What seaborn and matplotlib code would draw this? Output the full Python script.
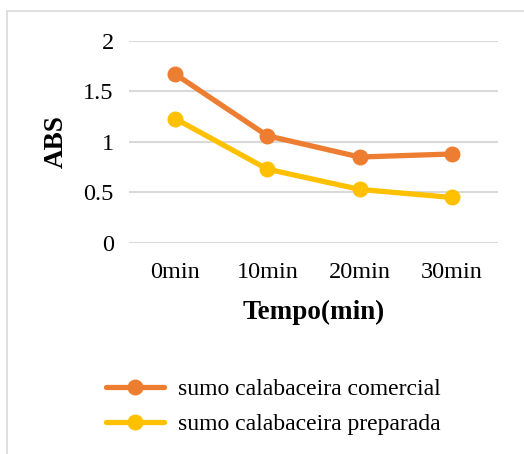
import matplotlib
matplotlib.use("Agg")
import matplotlib.pyplot as plt
import seaborn as sns
import pandas as pd
from matplotlib.patches import Rectangle

categories = ["0min", "10min", "20min", "30min"]
series_names = ["sumo calabaceira comercial", "sumo calabaceira preparada"]
comercial = [1.67, 1.06, 0.85, 0.88]
preparada = [1.23, 0.73, 0.53, 0.45]
yticks = [0, 0.5, 1, 1.5, 2]
colors = ["#ED7D31", "#FFC000"]

rows = []
for name, vals in zip(series_names, [comercial, preparada]):
    for c, v in zip(categories, vals):
        rows.append({"Tempo": c, "ABS": v, "serie": name})
df = pd.DataFrame(rows)

sns.set_theme(style="white")
plt.rcParams["font.family"] = ["Liberation Serif", "DejaVu Serif"]
plt.rcParams["text.color"] = "black"
plt.rcParams["axes.labelcolor"] = "black"

fig = plt.figure(figsize=(5.24, 4.54), dpi=100)
W, H = 524, 454
ax = fig.add_axes([129 / W, 1 - 243 / H, (498 - 129) / W, (243 - 40.7) / H])

sns.lineplot(data=df, x="Tempo", y="ABS", hue="serie", palette=colors,
             marker="o", markersize=11.5, markeredgewidth=0, linewidth=3.8,
             sort=False, ax=ax)

ax.set_xlim(-0.5, 3.5)
ax.set_ylim(0, 2)
ax.set_yticks(yticks)
ax.set_yticklabels(["0", "0.5", "1", "1.5", "2"])
ax.yaxis.grid(True, color="#D9D9D9", linewidth=1.5)
ax.xaxis.grid(False)
for s in ax.spines.values():
    s.set_visible(False)
ax.tick_params(axis="both", length=0, labelsize=17.5, colors="black")
ax.tick_params(axis="y", pad=11)
ax.tick_params(axis="x", pad=14)
ax.set_xlabel("Tempo(min)", fontsize=19.5, fontweight="bold", labelpad=12)
ax.set_ylabel("ABS", fontsize=19.5, fontweight="bold")
ax.yaxis.set_label_coords((69 - 129) / (498 - 129), 0.5)
ax.set_axisbelow(True)

handles, labels = ax.get_legend_handles_labels()
ax.get_legend().remove()
fig.legend(handles, labels, loc="upper left", bbox_to_anchor=(85 / W, 1 - 357 / H),
           frameon=False, fontsize=17, handlelength=2.45, labelspacing=0.6,
           handletextpad=0.6)

fig.patches.append(Rectangle((7 / W, -0.1), 1.2, 1 - 11 / H + 0.1,
                             transform=fig.transFigure, fill=False,
                             edgecolor="#D9D9D9", linewidth=1.2))

fig.savefig("out.png", dpi=100)
